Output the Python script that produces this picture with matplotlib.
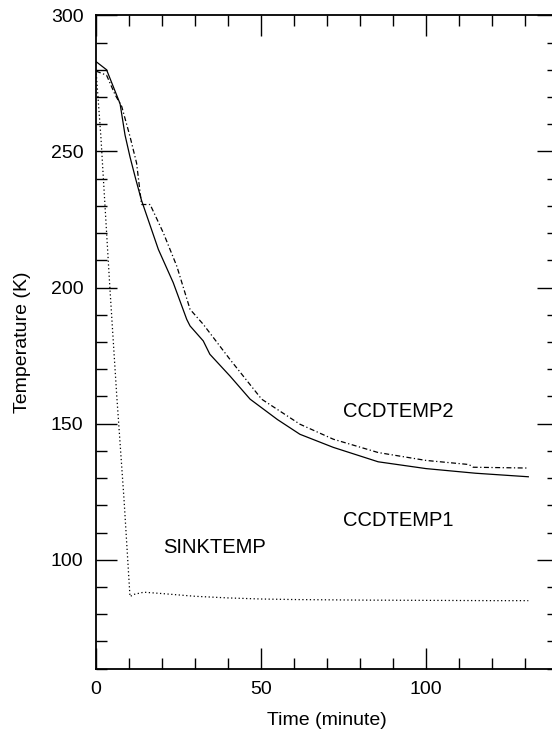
import matplotlib.pyplot as plt
from matplotlib.ticker import MultipleLocator

plt.rcParams['font.family'] = ['Liberation Sans', 'DejaVu Sans']

# SINKTEMP (dotted)
sink_t = [0, 1.5, 4.2, 6.3, 8.5, 10.3, 11.5, 14.5, 20, 30, 40, 50, 60, 80, 100, 120, 131]
sink_T = [280, 255, 200, 160, 122, 86.5, 87.3, 88.1, 87.6, 86.6, 86.0, 85.6, 85.4, 85.2, 85.1, 85.0, 85.0]

# CCDTEMP1 (solid)
ccd1_t = [0, 3.2, 7.3, 8.8, 10.3, 12, 13.8, 18.9, 23.4, 27.5, 28.5, 32.5, 34.5, 40.6, 46.7,
          55, 61.8, 71.9, 85.5, 100, 115, 131]
ccd1_T = [283, 280, 267.5, 256, 248, 240, 232, 214, 201.8, 188.3, 185.9, 180.4, 175.5, 167.5, 159,
          151.5, 146.1, 141.3, 136, 133.5, 131.8, 130.5]

# CCDTEMP2 (dash-dot)
ccd2_t = [0, 3.2, 5.8, 7.8, 10.3, 12.3, 13.8, 16.4, 20.4, 24.5, 28.5, 32.5, 40.6, 50.2,
          61.8, 71.9, 85.5, 100, 113, 114.3, 131]
ccd2_T = [279.5, 278, 270.8, 266.5, 255.5, 245.7, 230.5, 230.5, 220.1, 207.8, 192, 186.5, 173.6, 159,
          149.8, 144.3, 139.4, 136.5, 135, 134, 133.7]

labels = ['CCDTEMP2', 'CCDTEMP1', 'SINKTEMP']
label_pos = [(74.9, 152.3), (74.9, 112.3), (20.4, 102.5)]

fig = plt.figure(figsize=(5.52, 7.33), dpi=100)
# right spine sits just past the image edge, as in the original
ax = fig.add_axes([96 / 552, 1 - 668.7 / 733, (558 - 96) / 552, (668.7 - 15.3) / 733])

ax.plot(ccd1_t, ccd1_T, color='black', lw=0.9, linestyle='-')
ax.plot(ccd2_t, ccd2_T, color='black', lw=0.9, linestyle=(0, (4, 2, 1, 2)))
ax.plot(sink_t, sink_T, color='black', lw=0.9, linestyle=(0, (1, 2)))

for txt, (x, y) in zip(labels, label_pos):
    ax.text(x, y, txt, fontsize=14.5, ha='left', va='baseline')

ax.set_xlim(0, 140)
ax.set_ylim(60, 300)
ax.set_xticks([0, 50, 100])
ax.set_yticks([100, 150, 200, 250, 300])
ax.xaxis.set_minor_locator(MultipleLocator(10))
ax.yaxis.set_minor_locator(MultipleLocator(10))
ax.tick_params(which='both', direction='in', top=True, right=True, colors='black')
ax.tick_params(which='major', length=15, width=1.0, labelsize=14, pad=9)
ax.tick_params(which='minor', length=8, width=1.0)
for s in ax.spines.values():
    s.set_linewidth(1.3)

ax.set_xlabel('Time (minute)', fontsize=14, labelpad=10)
ax.set_ylabel('Temperature (K)', fontsize=14, labelpad=14)

fig.savefig('out.png', dpi=100)
